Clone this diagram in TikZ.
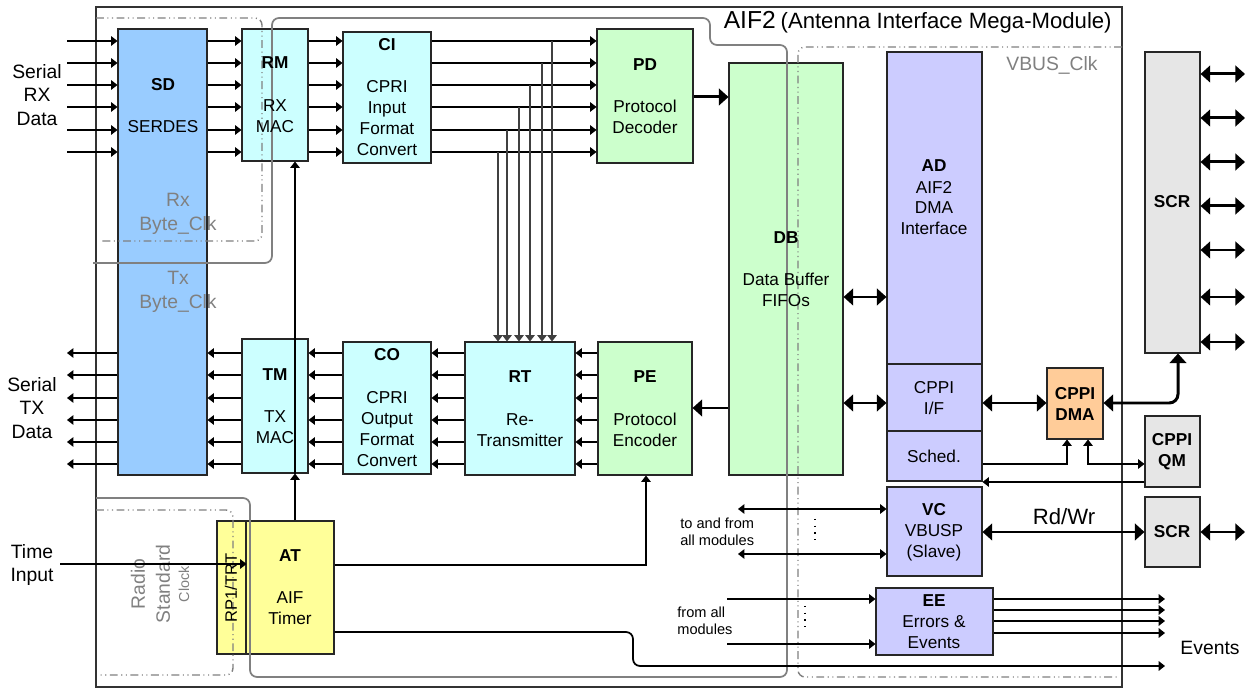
\documentclass[tikz,border=0pt]{standalone}
\usepackage{fontspec}
\setmainfont{Liberation Sans}
\usetikzlibrary{arrows.meta,fit,calc}
\definecolor{sdblue}{HTML}{99CCFF}
\definecolor{cyanl}{HTML}{CCFFFF}
\definecolor{greenl}{HTML}{CCFFCC}
\definecolor{violl}{HTML}{CCCCFF}
\definecolor{orangel}{HTML}{FFCC99}
\definecolor{grayl}{HTML}{E6E6E6}
\definecolor{yell}{HTML}{FFFF99}
\definecolor{bnd}{HTML}{808080}
\newcommand{\fsblk}{\fontsize{9.8}{11.9}\selectfont}
\newcommand{\fsside}{\fontsize{11}{13.3}\selectfont}
\newcommand{\fssmall}{\fontsize{8.3}{9.7}\selectfont}
\newcommand{\mkblk}[6]{%
  \coordinate (#1-a) at (#2,#3);
  \coordinate (#1-b) at (#4,#5);
  \node[blk, fill=#6, fit=(#1-a)(#1-b)] (#1) {};}
\tikzset{
  blk/.style={draw=black!85, line width=0.6pt, inner sep=0pt},
  txt/.style={font=\fsblk, align=center, inner sep=0pt},
  btxt/.style={font=\fsblk\bfseries, align=center, inner sep=0pt},
  side/.style={font=\fsside, align=center, inner sep=0pt},
  glab/.style={font=\fsside, align=center, inner sep=0pt, text=bnd},
  arr/.style={-{Triangle[length=3.6pt,width=5.4pt]}, line width=0.6pt},
  darr/.style={{Triangle[length=3.6pt,width=5.4pt]}-{Triangle[length=3.6pt,width=5.4pt]}, line width=0.6pt},
  tarr/.style={-{Triangle[length=5.5pt,width=9.5pt]}, line width=1.7pt},
  tdarr/.style={{Triangle[length=5.5pt,width=9.5pt]}-{Triangle[length=5.5pt,width=9.5pt]}, line width=1.7pt},
  tap/.style={-{Triangle[length=3.6pt,width=5.4pt]}, line width=0.6pt, draw=black!75},
  gsolid/.style={draw=bnd, line width=1pt, rounded corners=4pt},
  gdash/.style={draw=bnd, line width=0.8pt, rounded corners=4pt,
     dash pattern=on 4.5pt off 2pt on 0.6pt off 2pt on 0.6pt off 2pt},
  dots/.style={line width=0.8pt, dash pattern=on 0.8pt off 3pt}
}
\begin{document}
\begin{tikzpicture}[x=0.02cm,y=-0.02cm]
\useasboundingbox (0,0) rectangle (1248,688);
% outer box
\draw[line width=0.6pt, draw=black!80] (96,7) rectangle (1122,687);
\node[anchor=base east, inner sep=0pt] (title) at (1112,29)
  {{\fontsize{14}{16}\selectfont AIF2} {\fontsize{12.6}{15}\selectfont(Antenna Interface Mega-Module)}};

% blocks
\mkblk{SD}{118}{29}{207}{475}{sdblue}
\mkblk{RM}{242}{29}{308}{161}{cyanl}
\mkblk{CI}{343}{32}{431}{163}{cyanl}
\mkblk{PD}{597}{29}{693}{163}{greenl}
\mkblk{DB}{729}{63}{843}{475}{greenl}
\mkblk{AD}{887}{52}{982}{364}{violl}
\mkblk{CIF}{887}{364}{982}{431}{violl}
\mkblk{Sched}{887}{431}{982}{481}{violl}
\mkblk{SCRa}{1145}{52}{1200}{353}{grayl}
\mkblk{DMA}{1047}{368}{1103}{439}{orangel}
\mkblk{QM}{1145}{416}{1200}{487}{grayl}
\mkblk{SCRb}{1145}{497}{1200}{567}{grayl}
\mkblk{VC}{887}{487}{982}{576}{violl}
\mkblk{EE}{876}{588}{993}{655}{violl}
\mkblk{TM}{242}{339}{308}{473}{cyanl}
\mkblk{CO}{343}{342}{431}{474}{cyanl}
\mkblk{RT}{465}{342}{575}{475}{cyanl}
\mkblk{PE}{598}{342}{692}{475}{greenl}
\mkblk{RP}{217}{521}{246}{654}{yell}
\mkblk{AT}{246}{521}{334}{654}{yell}

% clock domain boundaries
\draw[gsolid] (93,263) -- (272,263) -- (272,18) -- (710,18) -- (710,45) -- (787,45)
   -- (787,677) -- (250,677) -- (250,498) -- (96,498);
\draw[gdash] (96,18) -- (262,18) -- (262,241) -- (101,241);
\draw[gdash] (96,510) -- (233,510) -- (233,675) -- (100,675);
\draw[gdash] (1122,47) -- (798,47) -- (798,677) -- (1120,677);

% block texts
\node[btxt] (SDt) at (163,85) {SD};
\node[txt] (SDs) at (163,127) {SERDES};
\node[btxt] (RMt) at (275,63) {RM};
\node[txt] (RMs) at (275,116) {RX\\MAC};
\node[btxt] (CIt) at (387,45) {CI};
\node[txt] (CIs) at (387,118) {CPRI\\Input\\Format\\Convert};
\node[btxt] (PDt) at (645,65) {PD};
\node[txt] (PDs) at (645,117) {Protocol\\Decoder};
\node[btxt] (DBt) at (786,238) {DB};
\node[txt] (DBs) at (786,290) {Data Buffer\\FIFOs};
\node[btxt] (ADt) at (934,166) {AD};
\node[txt] (ADs) at (934,208) {AIF2\\DMA\\Interface};
\node[txt] (CIFt) at (934,398) {CPPI\\I/F};
\node[txt] (Schedt) at (934,456) {Sched.};
\node[btxt] (SCRat) at (1172,202) {SCR};
\node[btxt] (DMAt) at (1075,404) {CPPI\\DMA};
\node[btxt] (QMt) at (1172,452) {CPPI\\QM};
\node[btxt] (SCRbt) at (1172,532) {SCR};
\node[btxt] (VCt) at (934,510) {VC};
\node[txt] (VCs) at (934,543) {VBUSP\\(Slave)};
\node[btxt] (EEt) at (934,601) {EE};
\node[txt] (EEs) at (934,632) {Errors \&\\Events};
\node[btxt] (TMt) at (275,375) {TM};
\node[txt] (TMs) at (275,427) {TX\\MAC};
\node[btxt] (COt) at (387,355) {CO};
\node[txt] (COs) at (387,429) {CPRI\\Output\\Format\\Convert};
\node[btxt] (RTt) at (520,377) {RT};
\node[txt] (RTs) at (520,430) {Re-\\Transmitter};
\node[btxt] (PEt) at (645,377) {PE};
\node[txt] (PEs) at (645,430) {Protocol\\Encoder};
\node[btxt] (ATt) at (290,556) {AT};
\node[txt] (ATs) at (290,608) {AIF\\Timer};
\node[txt, rotate=90, font=\fontsize{9.4}{11}\selectfont] (RPt) at (231,588) {RP1/TRT};

% side and domain labels
\node[side] (srx) at (37,95) {Serial\\RX\\Data};
\node[side] (stx) at (32,408) {Serial\\TX\\Data};
\node[side] (tin) at (32,565) {Time\\Input};
\node[side] (evt) at (1210,648) {Events};
\node[font=\fontsize{12.6}{15}\selectfont, inner sep=0pt] (rdwr) at (1064,517) {Rd/Wr};
\node[font=\fssmall, align=left, anchor=west, inner sep=0pt] (tafm) at (680,532) {to and from\\all modules};
\node[font=\fssmall, align=left, anchor=west, inner sep=0pt] (fam) at (677,621) {from all\\modules};
\node[glab] (vbus) at (1052,65) {VBUS\_Clk};
\node[glab] (rxclk) at (178,214) {Rx\\Byte\_Clk};
\node[glab] (txclk) at (178,292) {Tx\\Byte\_Clk};
\node[glab, rotate=90] (radio) at (138,584) {Radio};
\node[glab, rotate=90] (stdd) at (163,584) {Standard};
\node[glab, rotate=90, font=\fontsize{8.2}{9}\selectfont] (clk) at (184,584) {Clock};

% RX data path
\foreach \y [count=\i] in {41,63,85,107,130,152} {
  \coordinate (rx\i) at (67,\y);
  \draw[arr] (rx\i) -- (SD.west |- rx\i);
  \draw[arr] (SD.east |- rx\i) -- (RM.west |- rx\i);
  \draw[arr] (RM.east |- rx\i) -- (CI.west |- rx\i);
  \draw[arr] (CI.east |- rx\i) -- (PD.west |- rx\i);
}
\foreach \x/\i in {552/1,542/2,530/3,519/4,507/5,498/6} {
  \coordinate (tp\i) at (\x,0);
  \draw[tap] (tp\i |- rx\i) -- (RT.north -| tp\i);
}
% TX data path
\foreach \y [count=\i] in {353,375,398,420,442,464} {
  \coordinate (tx\i) at (67,\y);
  \draw[arr] (PE.west |- tx\i) -- (RT.east |- tx\i);
  \draw[arr] (RT.west |- tx\i) -- (CO.east |- tx\i);
  \draw[arr] (CO.west |- tx\i) -- (TM.east |- tx\i);
  \draw[arr] (TM.west |- tx\i) -- (SD.east |- tx\i);
  \draw[arr] (SD.west |- tx\i) -- (tx\i);
}

% timer connections
\coordinate (tin0) at (60,564);
\draw[arr] (tin0) -- (RP.east |- tin0);
\coordinate (atx) at (295,0);
\draw[arr] (AT.north -| atx) -- (TM.south -| atx);
\draw[arr] (TM.south -| atx) -- (RM.south -| atx);
\coordinate (atpe) at (646,565);
\draw[arr] (AT.east |- atpe) -| (PE.south -| atpe);
\coordinate (evA) at (633,632);
\coordinate (evB) at (633,666);
\coordinate (evE) at (1165,666);
\draw[arr, line width=1pt, rounded corners=4pt] (AT.east |- evA) -- (evA) -- (evB) -- (evE);

% data buffer connections
\coordinate (y97) at (0,97);
\draw[tarr] (PD.east |- y97) -- (DB.west |- y97);
\coordinate (y408) at (0,408);
\draw[tarr] (DB.west |- y408) -- (PE.east |- y408);
\coordinate (y297) at (0,297);
\draw[tdarr] (DB.east |- y297) -- (AD.west |- y297);
\coordinate (y403) at (0,403);
\draw[tdarr] (DB.east |- y403) -- (CIF.west |- y403);
\draw[tdarr] (CIF.east |- y403) -- (DMA.west |- y403);
\coordinate (ds) at (1178,403);
\draw[tdarr, rounded corners=5pt] (DMA.east |- ds) -| (SCRa.south -| ds);
\coordinate (sd1) at (1067,464);
\draw[arr] (Sched.east |- sd1) -| (DMA.south -| sd1);
\coordinate (dq) at (1088,464);
\draw[darr] (DMA.south -| dq) |- (QM.west |- dq);
\coordinate (qa) at (0,482);
\draw[arr] (QM.west |- qa) -- (Sched.east |- qa);

% SCR ports
\foreach \y [count=\i] in {74,118,162,206,250,297,342} {
  \coordinate (sr\i) at (1245,\y);
  \draw[tdarr] (SCRa.east |- sr\i) -- (sr\i);
}
\coordinate (sb) at (1245,532);
\draw[tdarr] (SCRb.east |- sb) -- (sb);
\draw[tdarr] (VC.east |- sb) -- (SCRb.west |- sb);

% VC and EE connections
\coordinate (vc1) at (738,509);
\coordinate (vc2) at (738,554);
\draw[darr] (vc1) -- (VC.west |- vc1);
\draw[darr] (vc2) -- (VC.west |- vc2);
\draw[dots] (815,519) -- (815,542);
\coordinate (ee1) at (727,599);
\coordinate (ee2) at (727,644);
\draw[arr] (ee1) -- (EE.west |- ee1);
\draw[arr] (ee2) -- (EE.west |- ee2);
\draw[dots] (805,606) -- (805,630);
\foreach \y [count=\i] in {599,610,621,633} {
  \coordinate (eo\i) at (1165,\y);
  \draw[arr, line width=1pt] (EE.east |- eo\i) -- (eo\i);
}
\end{tikzpicture}
\end{document}
